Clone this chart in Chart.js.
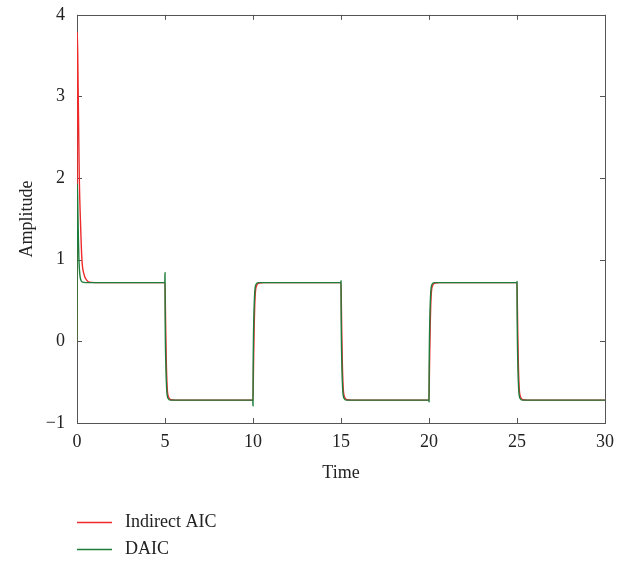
<!DOCTYPE html>
<html>
<head>
<meta charset="utf-8">
<script src="https://cdn.jsdelivr.net/npm/chart.js@4/dist/chart.umd.min.js"></script>
<style>
  html, body { margin: 0; padding: 0; background: #fff; }
  #wrap { width: 629px; height: 561px; position: relative; }
</style>
</head>
<body>
<div id="wrap"><canvas id="ampChart"></canvas></div>
<script>
// Indirect AIC response
const timeIndirect = [0, 0.02, 0.06, 0.1, 0.13, 0.2, 0.28, 0.4, 0.55, 0.7, 1.0,
  5.0, 5.03, 5.07, 5.12, 5.2, 5.35, 5.6,
  10.0, 10.03, 10.07, 10.12, 10.2, 10.35, 10.6,
  15.0, 15.03, 15.07, 15.12, 15.2, 15.35, 15.6,
  20.0, 20.03, 20.07, 20.12, 20.2, 20.35, 20.6,
  25.0, 25.03, 25.07, 25.12, 25.2, 25.35, 25.6, 30]
const ampIndirect = [0, 3.79, 3.2, 2.5, 2.0, 1.45, 1.0, 0.82, 0.75, 0.725, 0.72,
  0.72, 0.3, -0.2, -0.55, -0.68, -0.715, -0.72,
  -0.72, -0.3, 0.2, 0.55, 0.68, 0.715, 0.72,
  0.72, 0.3, -0.2, -0.55, -0.68, -0.715, -0.72,
  -0.72, -0.3, 0.2, 0.55, 0.68, 0.715, 0.72,
  0.72, 0.3, -0.2, -0.55, -0.68, -0.715, -0.72, -0.72]

// DAIC response
const timeDaic = [0, 0.02, 0.05, 0.08, 0.11, 0.16, 0.22, 0.32, 0.5,
  4.99, 5.0, 5.01, 5.05, 5.1, 5.18, 5.3,
  9.99, 10.0, 10.01, 10.05, 10.1, 10.18, 10.3,
  14.99, 15.0, 15.01, 15.05, 15.1, 15.18, 15.3,
  19.99, 20.0, 20.01, 20.05, 20.1, 20.18, 20.3,
  24.99, 25.0, 25.01, 25.05, 25.1, 25.18, 25.3, 30]
const ampDaic = [0, 1.93, 1.6, 1.25, 1.0, 0.82, 0.75, 0.725, 0.72,
  0.72, 0.84, 0.3, -0.3, -0.6, -0.7, -0.72,
  -0.72, -0.79, -0.3, 0.3, 0.6, 0.7, 0.72,
  0.72, 0.74, 0.3, -0.3, -0.6, -0.7, -0.72,
  -0.72, -0.74, -0.3, 0.3, 0.6, 0.7, 0.72,
  0.72, 0.73, 0.3, -0.3, -0.6, -0.7, -0.72, -0.72]

const xTicks = [0, 5, 10, 15, 20, 25, 30]
const yTicks = [-1, 0, 1, 2, 3, 4]

const FONT = "'Liberation Serif', 'DejaVu Serif', serif"
const TEXT = "#222"
const FRAME = "#555"

const toPoints = (xs, ys) => xs.map((x, i) => ({ x: x, y: ys[i] }))

// box around the plot with inward tick marks on every side (drawn under the curves)
const framePlugin = {
  id: "frame",
  beforeDatasetsDraw: (chart) => {
    const { ctx, chartArea: a, scales } = chart
    ctx.save()
    ctx.strokeStyle = FRAME
    ctx.lineWidth = 1
    ctx.strokeRect(Math.round(a.left) + 0.5, Math.round(a.top) + 0.5,
      Math.round(a.right - a.left), Math.round(a.bottom - a.top))
    ctx.beginPath()
    xTicks.forEach((v) => {
      const px = Math.round(scales.x.getPixelForValue(v)) + 0.5
      ctx.moveTo(px, a.bottom); ctx.lineTo(px, a.bottom - 5)
      ctx.moveTo(px, a.top); ctx.lineTo(px, a.top + 5)
    })
    yTicks.forEach((v) => {
      const py = Math.round(scales.y.getPixelForValue(v)) + 0.5
      ctx.moveTo(a.left, py); ctx.lineTo(a.left + 5, py)
      ctx.moveTo(a.right, py); ctx.lineTo(a.right - 5, py)
    })
    ctx.stroke()
    ctx.restore()
  },
}

// stacked legend under the x axis title
const legendPlugin = {
  id: "stackLegend",
  afterDraw: (chart) => {
    const { ctx, chartArea: a } = chart
    ctx.save()
    ctx.font = "18px " + FONT
    ctx.textBaseline = "middle"
    chart.data.datasets.forEach((ds, i) => {
      const y = 522 + i * 27
      ctx.strokeStyle = ds.borderColor
      ctx.lineWidth = 1.3
      ctx.beginPath()
      ctx.moveTo(a.left, y + 0.5); ctx.lineTo(a.left + 35, y + 0.5)
      ctx.stroke()
      ctx.fillStyle = TEXT
      ctx.fillText(ds.label, a.left + 48, y)
    })
    ctx.restore()
  },
}

new Chart(document.getElementById("ampChart"), {
  type: "line",
  data: {
    datasets: [
      {
        label: "Indirect AIC",
        data: toPoints(timeIndirect, ampIndirect),
        borderColor: "#ee2a2a",
        borderWidth: 1.4,
        pointRadius: 0,
        cubicInterpolationMode: "monotone",
        order: 2,
      },
      {
        label: "DAIC",
        data: toPoints(timeDaic, ampDaic),
        borderColor: "#1e7d3c",
        borderWidth: 1.4,
        pointRadius: 0,
        cubicInterpolationMode: "monotone",
        order: 1,
      },
    ],
  },
  options: {
    responsive: true,
    maintainAspectRatio: false,
    animation: false,
    layout: { padding: { top: 14, right: 24, bottom: 73, left: 0 } },
    plugins: {
      legend: { display: false },
      tooltip: { enabled: false },
    },
    scales: {
      x: {
        type: "linear",
        min: 0,
        max: 30,
        grid: { display: false },
        border: { display: false },
        afterBuildTicks: (s) => { s.ticks = xTicks.map((v) => ({ value: v })) },
        afterFit: (s) => { s.height = 65 },
        ticks: { color: TEXT, padding: 0, font: { family: FONT, size: 18 } },
        title: {
          display: true,
          text: "Time",
          color: TEXT,
          font: { family: FONT, size: 18 },
        },
      },
      y: {
        type: "linear",
        min: -1,
        max: 4,
        grid: { display: false },
        border: { display: false },
        afterBuildTicks: (s) => { s.ticks = yTicks.map((v) => ({ value: v })) },
        afterFit: (s) => { s.width = 77 },
        ticks: {
          color: TEXT,
          padding: 4,
          font: { family: FONT, size: 18 },
          callback: (v) => (v < 0 ? "\u2212" + Math.abs(v) : String(v)),
        },
        title: {
          display: true,
          text: "Amplitude",
          color: TEXT,
          padding: { top: 16, bottom: 4 },
          font: { family: FONT, size: 18 },
        },
      },
    },
  },
  plugins: [framePlugin, legendPlugin],
})
</script>
</body>
</html>
